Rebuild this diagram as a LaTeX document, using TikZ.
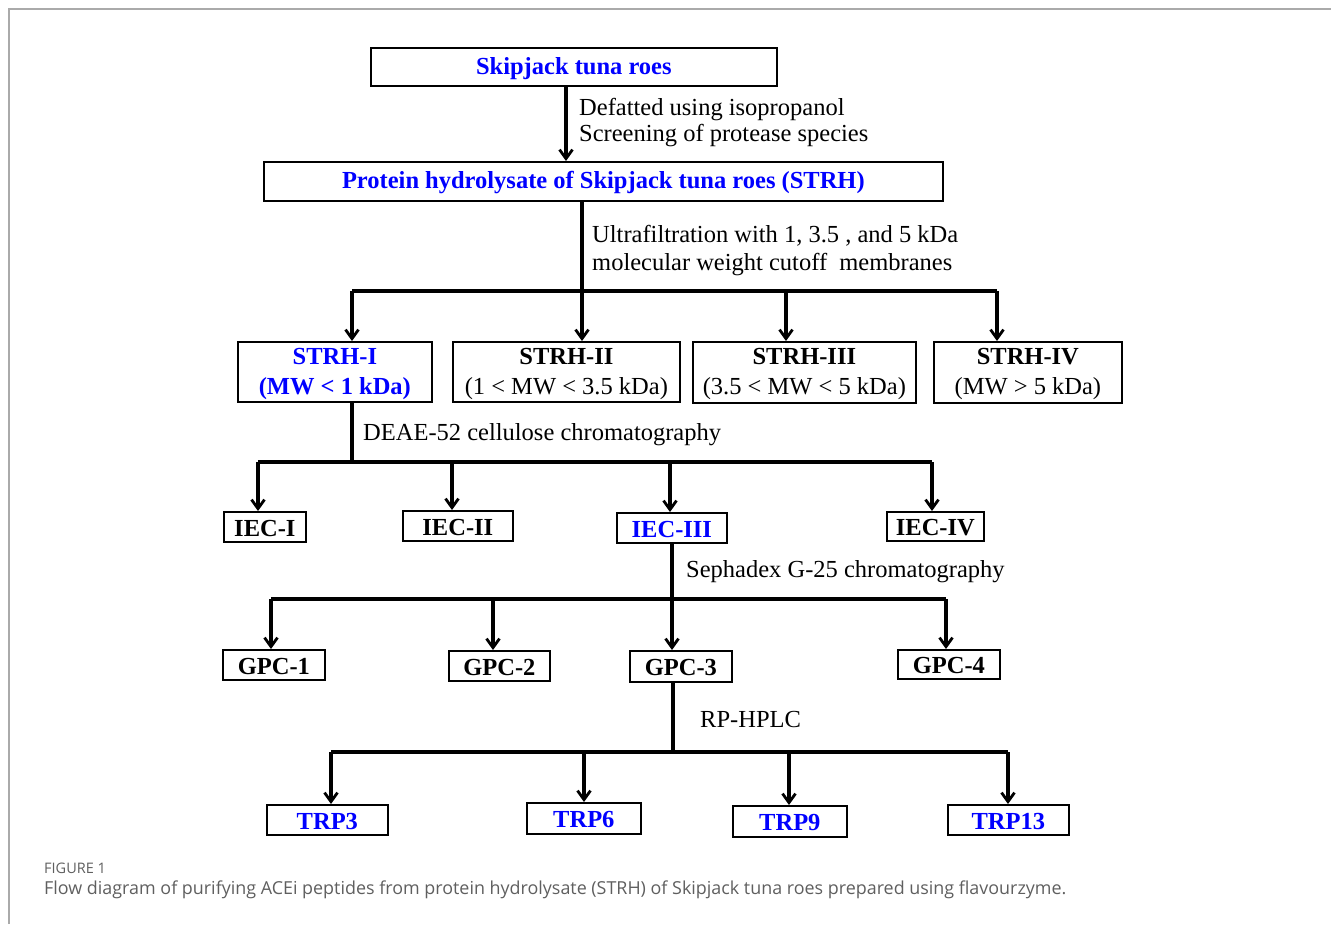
\documentclass[tikz,border=0pt]{standalone}
\usepackage{fontspec}
\setmainfont{Liberation Serif}
\newfontfamily\capfont{Open Sans}
\usetikzlibrary{arrows.meta}
\definecolor{pblue}{RGB}{0,0,255}
\definecolor{capgray}{RGB}{95,95,95}
\definecolor{framegray}{RGB}{170,170,170}
\begin{document}
\begin{tikzpicture}[x=1pt,y=-1pt,
  box/.style={draw=black,line width=1.7pt,inner sep=0pt,anchor=north west,align=center,font=\fontsize{24.5}{30}\selectfont\bfseries},
  lbl/.style={anchor=west,inner sep=0pt,font=\fontsize{24.5}{28}\selectfont},
  ln/.style={line width=3.1pt},
  arr/.style={line width=3.1pt,-{Straight Barb[length=9pt,width=13pt,line width=2.8pt]}}]
\useasboundingbox (0,0) rectangle (1331,924);
\draw[framegray,line width=1.2pt] (9,924) -- (9,9) -- (1331,9);
% level 1
\node[box,minimum width=406pt,minimum height=38pt,text=pblue] (b1) at (370,47) {\rule{0pt}{20pt}Skipjack tuna roes};
\node[box,minimum width=679pt,minimum height=39pt,text=pblue] (b2) at (263,161) {\rule{0pt}{20pt}Protein hydrolysate of Skipjack tuna roes (STRH)};
\coordinate (c1) at (566,0);
\draw[arr] (c1 |- b1.south) -- (c1 |- b2.north);
\node[lbl] (l1) at (579,110) {Defatted using isopropanol};
\node[lbl] (l2) at (579,136) {Screening of protease species};
% level 2
\coordinate (j1) at (582,291);
\draw[ln] (j1 |- b2.south) -- (j1);
\node[lbl] (l3) at (592,236) {Ultrafiltration with 1, 3.5 , and 5 kDa};
\node[lbl] (l4) at (592,265) {molecular weight cutoff\ \ membranes};
\node[box,minimum width=194pt,minimum height=60pt,text=pblue] (s1) at (237,341) {\rule{0pt}{20pt}STRH-I\\(MW {\normalfont\bfseries<} 1 kDa)};
\node[box,minimum width=227pt,minimum height=60pt] (s2) at (452,341) {\rule{0pt}{20pt}STRH-II\\{\mdseries(1 < MW < 3.5 kDa)}};
\node[box,minimum width=223pt,minimum height=61pt] (s3) at (692,341) {\rule{0pt}{20pt}STRH-III\\{\mdseries(3.5 < MW < 5 kDa)}};
\node[box,minimum width=188pt,minimum height=61pt] (s4) at (933,341) {\rule{0pt}{20pt}STRH-IV\\{\mdseries(MW > 5 kDa)}};
\coordinate (a1) at (352,291); \coordinate (a2) at (582,291);
\coordinate (a3) at (786,291); \coordinate (a4) at (997,291);
\draw[ln] (a1) -- (a4);
\draw[arr] (a1) -- (a1 |- s1.north);
\draw[arr] (a2) -- (a2 |- s2.north);
\draw[arr] (a3) -- (a3 |- s3.north);
\draw[arr] (a4) -- (a4 |- s4.north);
% level 3
\coordinate (j2) at (352,462);
\draw[ln] (j2 |- s1.south) -- (j2);
\node[lbl] (l5) at (363,435) {DEAE-52 cellulose chromatography};
\node[box,minimum width=82pt,minimum height=30pt] (e1) at (223,511) {\rule{0pt}{19pt}IEC-I};
\node[box,minimum width=110pt,minimum height=30pt] (e2) at (402,510) {\rule{0pt}{19pt}IEC-II};
\node[box,minimum width=110pt,minimum height=30pt,text=pblue] (e3) at (616,512) {\rule{0pt}{19pt}IEC-III};
\node[box,minimum width=97pt,minimum height=29pt] (e4) at (886,511) {\rule{0pt}{19pt}IEC-IV};
\coordinate (b1a) at (258,462); \coordinate (b2a) at (452,462);
\coordinate (b3a) at (670,462); \coordinate (b4a) at (932,462);
\draw[ln] (b1a) -- (b4a);
\draw[arr] (b1a) -- (b1a |- e1.north);
\draw[arr] (b2a) -- (b2a |- e2.north);
\draw[arr] (b3a) -- (b3a |- e3.north);
\draw[arr] (b4a) -- (b4a |- e4.north);
% level 4
\coordinate (j3) at (672,599);
\draw[ln] (j3 |- e3.south) -- (j3);
\node[lbl] (l6) at (686,572) {Sephadex G-25 chromatography};
\node[box,minimum width=102pt,minimum height=30pt] (g1) at (222,649) {\rule{0pt}{19pt}GPC-1};
\node[box,minimum width=101pt,minimum height=30pt] (g2) at (448,650) {\rule{0pt}{19pt}GPC-2};
\node[box,minimum width=102pt,minimum height=31pt] (g3) at (629,650) {\rule{0pt}{19pt}GPC-3};
\node[box,minimum width=102pt,minimum height=29pt] (g4) at (897,649) {\rule{0pt}{19pt}GPC-4};
\coordinate (d1) at (271,599); \coordinate (d2) at (493,599);
\coordinate (d3) at (672,599); \coordinate (d4) at (946,599);
\draw[ln] (d1) -- (d4);
\draw[arr] (d1) -- (d1 |- g1.north);
\draw[arr] (d2) -- (d2 |- g2.north);
\draw[arr] (d3) -- (d3 |- g3.north);
\draw[arr] (d4) -- (d4 |- g4.north);
% level 5
\coordinate (j4) at (673,752);
\draw[ln] (j4 |- g3.south) -- (j4);
\node[lbl] (l7) at (700,719) {RP-HPLC};
\node[box,minimum width=121pt,minimum height=30pt,text=pblue] (t1) at (266,804) {\rule{0pt}{19pt}TRP3};
\node[box,minimum width=114pt,minimum height=31pt,text=pblue] (t2) at (526,802) {\rule{0pt}{19pt}TRP6};
\node[box,minimum width=114pt,minimum height=31pt,text=pblue] (t3) at (732,805) {\rule{0pt}{19pt}TRP9};
\node[box,minimum width=121pt,minimum height=30pt,text=pblue] (t4) at (947,804) {\rule{0pt}{19pt}TRP13};
\coordinate (f1) at (331,752); \coordinate (f2) at (584,752);
\coordinate (f3) at (789,752); \coordinate (f4) at (1008,752);
\draw[ln] (f1) -- (f4);
\draw[arr] (f1) -- (f1 |- t1.north);
\draw[arr] (f2) -- (f2 |- t2.north);
\draw[arr] (f3) -- (f3 |- t3.north);
\draw[arr] (f4) -- (f4 |- t4.north);
% caption
\node[anchor=west,inner sep=0pt,text=capgray,font=\capfont\fontsize{14.5}{16}\selectfont] (cap1) at (44,868) {FIGURE 1};
\node[anchor=west,inner sep=0pt,text=capgray,font=\capfont\fontsize{17.9}{20}\selectfont] (cap2) at (44,890) {Flow diagram of purifying ACEi peptides from protein hydrolysate (STRH) of Skipjack tuna roes prepared using flavourzyme.};
\end{tikzpicture}
\end{document}
